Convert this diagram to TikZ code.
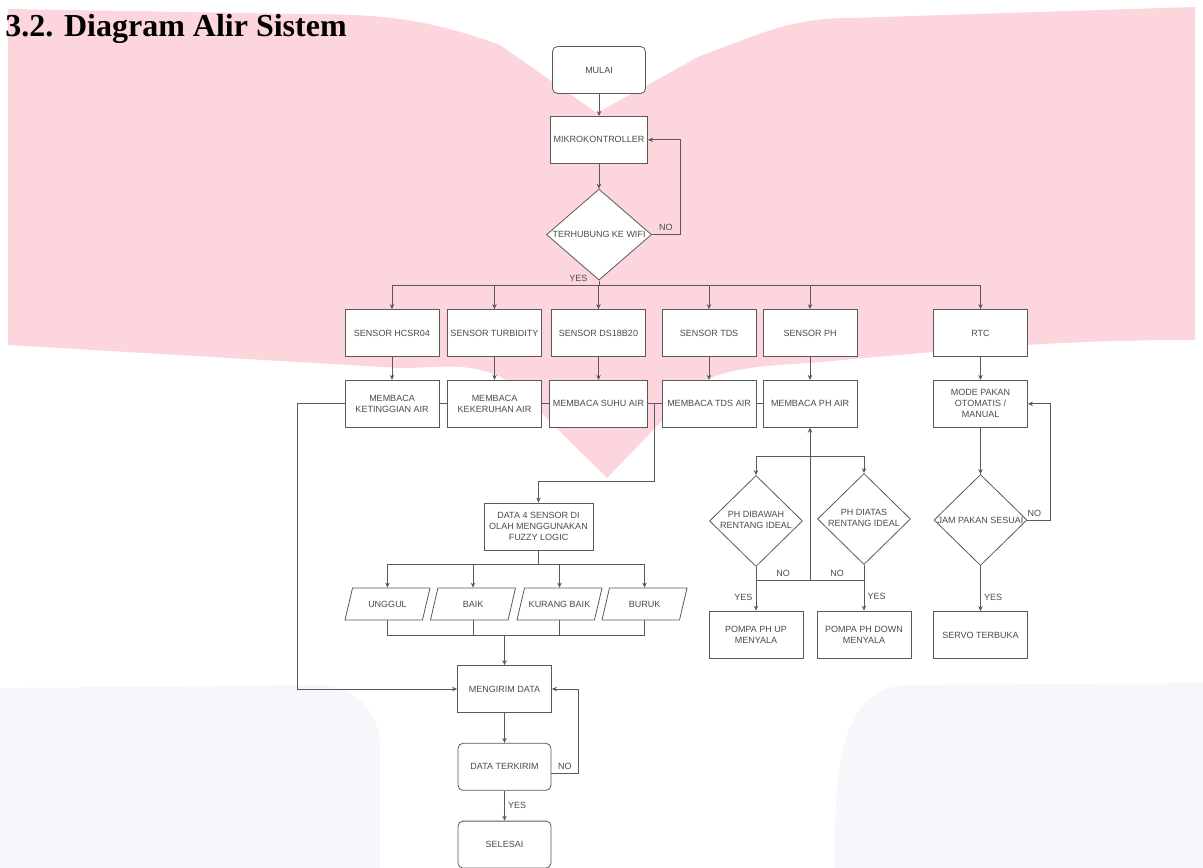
\documentclass[tikz,border=0pt]{standalone}
\usepackage{fontspec}
\setmainfont{Liberation Serif}
\setsansfont{Liberation Sans}
\usetikzlibrary{calc, positioning, arrows.meta, shapes.geometric}
\definecolor{merahmuda}{RGB}{252,214,220}
\definecolor{abumuda}{RGB}{247,247,251}
\definecolor{garis}{RGB}{90,90,90}
\definecolor{tulisan}{RGB}{75,75,75}
\tikzstyle{terminal} = [
rectangle,
rounded corners=5pt,
minimum width=93pt,
minimum height=47pt,
align=center,
fill=white,
draw
]
\tikzstyle{proses} = [
rectangle,
minimum width=94pt,
minimum height=47pt,
align=center,
fill=white,
draw
]
\tikzstyle{keputusan} = [
diamond,
minimum width=93pt,
minimum height=91pt,
inner sep=0pt,
fill=white,
draw
]
\tikzstyle{hasil} = [
trapezium,
trapezium left angle=60,
trapezium right angle=120,
trapezium stretches body,
minimum width=85pt,
minimum height=32pt,
fill=white,
draw
]
\tikzstyle{panah}=[->,>={Stealth[length=5pt,width=4.5pt]}]

\begin{document}
\begin{tikzpicture}[x=1pt, y=-1pt, line width=0.8pt, color=garis, text=tulisan,
  font=\sffamily\fontsize{9}{11}\selectfont]
        \useasboundingbox (0,0) rectangle (1203,868);
        
        % latar belakang
        \fill[merahmuda] (8,9) -- (300,14) to[out=0,in=160] (500,45) -- (597,113)
        -- (700,56) to[out=20,in=180] (850,18) -- (1195,7) -- (1195,340)
        to[out=180,in=5] (820,362) to[out=185,in=60] (663,420) -- (607,478)
        -- (510,382) to[out=150,in=0] (400,368) -- (8,345) -- cycle;
        \fill[abumuda] (0,868) -- (0,688) -- (320,685) to[out=0,in=90] (380,745) -- (380,868) -- cycle;
        \fill[abumuda] (835,868) to[out=90,in=180] (910,685) -- (1203,683) -- (1203,868) -- cycle;
        
        \node (judul) [anchor=base west, inner sep=0pt, text=black,
        font=\rmfamily\bfseries\fontsize{32}{36}\selectfont] at (5,36)
        {3.2. Diagram Alir Sistem};
        
        \node (mulai) [terminal] at (599,70) {MULAI};
        
        \node (mikro) [proses, below=22pt of mulai] {MIKROKONTROLLER};
        
        \node (wifi) [keputusan, minimum width=105pt, below=25pt of mikro]
        {\makebox[0pt]{TERHUBUNG KE WIFI}};
        
        \node (hcsr) [proses] at (392,333) {SENSOR HCSR04};
        \node (turbidity) [proses] at (494.5,333) {SENSOR TURBIDITY};
        \node (dsb) [proses] at (598.5,333) {SENSOR DS18B20};
        \node (tds) [proses] at (709,333) {SENSOR TDS};
        \node (phsensor) [proses] at (810,333) {SENSOR PH};
        \node (rtc) [proses] at (980.5,333) {RTC};
        
        \node (bacatinggi) [proses, below=23pt of hcsr] {MEMBACA\\KETINGGIAN AIR};
        \node (bacakeruh) [proses, below=23pt of turbidity] {MEMBACA\\KEKERUHAN AIR};
        \node (bacasuhu) [proses, below=23pt of dsb] {MEMBACA SUHU AIR};
        \node (bacatds) [proses, below=23pt of tds] {MEMBACA TDS AIR};
        \node (bacaph) [proses, below=23pt of phsensor] {MEMBACA PH AIR};
        \node (modepakan) [proses, below=23pt of rtc] {MODE PAKAN\\OTOMATIS /\\MANUAL};
        
        \node (fuzzy) [proses, minimum width=109pt] at (538.5,526.5)
        {DATA 4 SENSOR DI\\OLAH MENGGUNAKAN\\FUZZY LOGIC};
        
        \node (unggul) [hasil] at (387.5,604) {\makebox[0pt]{UNGGUL}};
        \node (baik) [hasil] at (473,604) {\makebox[0pt]{BAIK}};
        \node (kurangbaik) [hasil] at (559.5,604) {\makebox[0pt]{KURANG BAIK}};
        \node (buruk) [hasil] at (644.5,604) {\makebox[0pt]{BURUK}};
        
        \node (kirim) [proses] at (504.5,689) {MENGIRIM DATA};
        
        \node (terkirim) [terminal, below=30pt of kirim] {DATA TERKIRIM};
        
        \node (selesai) [terminal, below=30pt of terkirim] {SELESAI};
        
        \node (phbawah) [keputusan] at (756,521)
        {\makebox[0pt]{\begin{tabular}{@{}c@{}}PH DIBAWAH\\RENTANG IDEAL\end{tabular}}};
        
        \node (phatas) [keputusan] at (864,519)
        {\makebox[0pt]{\begin{tabular}{@{}c@{}}PH DIATAS\\RENTANG IDEAL\end{tabular}}};
        
        \node (pompaup) [proses] at (756,634.5) {POMPA PH UP\\MENYALA};
        \node (pompadown) [proses] at (864,634.5) {POMPA PH DOWN\\MENYALA};
        
        \node (jampakan) [keputusan] at (980.5,520) {\makebox[0pt]{JAM PAKAN SESUAI}};
        
        \node (servo) [proses] at (980.5,635) {SERVO TERBUKA};
        
        \coordinate (ya) at (599,285);
        \coordinate (simpul) at ($(bacasuhu.east)!0.5!(bacatds.west)$);
        \coordinate (gabung) at (504.5,635);
        \coordinate (cabangph) at (810,456);
        \coordinate (tidakph) at (810,580);
        
        \draw [panah] (mulai)--(mikro);
        
        \draw [panah] (mikro)--(wifi);
        
        \draw [panah] (wifi.east) -- node[above]{NO} ++(28,0) |- (mikro.east);
        
        \draw (wifi.south)--(ya) node[above left, xshift=-8pt]{YES};
        
        \draw [panah] (ya) -| (hcsr.north);
        \draw [panah] (ya) -| (turbidity.north);
        \draw [panah] (ya) -| (dsb.north);
        \draw [panah] (ya) -| (tds.north);
        \draw [panah] (ya) -| (phsensor.north);
        \draw [panah] (ya) -| (rtc.north);
        
        \draw [panah] (hcsr)--(bacatinggi);
        \draw [panah] (turbidity)--(bacakeruh);
        \draw [panah] (dsb)--(bacasuhu);
        \draw [panah] (tds)--(bacatds);
        \draw [panah] (phsensor)--(bacaph);
        \draw [panah] (rtc)--(modepakan);
        
        \draw (bacatinggi)--(bacakeruh);
        \draw (bacakeruh)--(bacasuhu);
        \draw (bacasuhu)--(bacatds);
        \draw (bacatds)--(bacaph);
        
        \draw [panah] (simpul) -- ++(0,78) -| (fuzzy.north);
        
        \draw [panah] (fuzzy.south) -- ++(0,14) -| (unggul.north);
        \draw [panah] (fuzzy.south) -- ++(0,14) -| (baik.north);
        \draw [panah] (fuzzy.south) -- ++(0,14) -| (kurangbaik.north);
        \draw [panah] (fuzzy.south) -- ++(0,14) -| (buruk.north);
        
        \draw (unggul.south) |- (gabung);
        \draw (baik.south) |- (gabung);
        \draw (kurangbaik.south) |- (gabung);
        \draw (buruk.south) |- (gabung);
        \draw [panah] (gabung)--(kirim);
        
        \draw [panah] (bacatinggi.west) -- ++(-47,0) |- (kirim.west);
        
        \draw [panah] (kirim)--(terkirim);
        
        \draw [panah] ([yshift=-7pt]terkirim.east) -- node[above]{NO} ++(27,0) |- (kirim.east);
        
        \draw [panah] (terkirim)--node[right]{YES}(selesai);
        
        \draw [panah] (tidakph)--(bacaph.south);
        
        \draw [panah] (cabangph) -| (phbawah.north);
        \draw [panah] (cabangph) -| (phatas.north);
        
        \draw (phbawah.south |- tidakph)--node[above]{NO}(tidakph);
        \draw (phatas.south |- tidakph)--node[above]{NO}(tidakph);
        
        \draw [panah] (phbawah)--node[left, pos=0.7]{YES}(pompaup);
        \draw [panah] (phatas)--node[right, pos=0.7]{YES}(pompadown);
        
        \draw [panah] (modepakan)--(jampakan);
        
        \draw [panah] (jampakan.east) -- node[above, pos=0.3]{NO} ++(23,0) |- (modepakan.east);
        
        \draw [panah] (jampakan)--node[right, pos=0.7]{YES}(servo);
        
        \end{tikzpicture}
\end{document}
